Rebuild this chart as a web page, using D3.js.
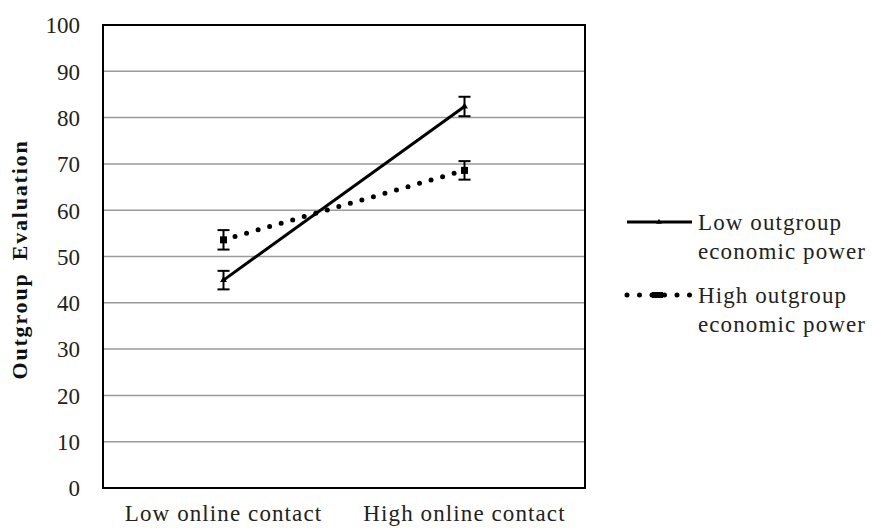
<!DOCTYPE html>
<html><head><meta charset="utf-8">
<script src="https://cdn.jsdelivr.net/npm/d3@7"></script>
<style>body{margin:0;background:#fff}svg{display:block}</style>
</head><body>
<svg id="c" width="872" height="528"></svg>
<script>
const categories = ["Low online contact", "High online contact"];
const seriesNames = ["Low outgroup economic power", "High outgroup economic power"];
const lowPower = [44.9, 82.4];
const highPower = [53.6, 68.6];
const lowPowerErr = [2.0, 2.1];
const highPowerErr = [2.1, 2.0];
const yTicks = [0,10,20,30,40,50,60,70,80,90,100];

const svg = d3.select("#c");
const m = {l:103, r:585, t:25, b:488};
const x = d3.scaleBand().domain(categories).range([m.l, m.r]);
const y = d3.scaleLinear().domain([0,100]).range([m.b, m.t]);
const font = "'Liberation Serif','Times New Roman',serif";

// gridlines
svg.append("g").selectAll("line").data(yTicks.filter(d=>d>0&&d<100)).join("line")
  .attr("x1", m.l).attr("x2", m.r).attr("y1", d=>y(d)).attr("y2", d=>y(d))
  .attr("stroke", "#9a9a9a").attr("stroke-width", 1.5);

// border
svg.append("rect").attr("x", m.l).attr("y", m.t).attr("width", m.r-m.l).attr("height", m.b-m.t)
  .attr("fill","none").attr("stroke","#000").attr("stroke-width",2);

// y axis
const ya = svg.append("g").attr("transform", `translate(${m.l},0)`)
  .call(d3.axisLeft(y).tickValues(yTicks).tickSize(0).tickPadding(23));
ya.select(".domain").remove();
ya.selectAll("text").attr("font-family", font).attr("font-size", 23).attr("fill","#222")
  .attr("dy", "0.34em");

// x axis
const xa = svg.append("g").attr("transform", `translate(0,${m.b})`)
  .call(d3.axisBottom(x).tickSize(0));
xa.select(".domain").remove();
xa.selectAll("text").attr("font-family", font).attr("font-size", 23).attr("fill","#222")
  .attr("dy", null).attr("y", 33).attr("letter-spacing", 1.1);

// y title
svg.append("text").attr("transform", `translate(27,${(m.t+m.b)/2+3}) rotate(-90)`)
  .attr("text-anchor","middle").attr("font-family", font).attr("font-size", 22)
  .attr("font-weight","bold").attr("fill","#111").attr("letter-spacing", 1.8)
  .attr("word-spacing", 5).text("Outgroup Evaluation");

const cx = c => x(c) + x.bandwidth()/2;
const line = d3.line().x((d,i)=>cx(categories[i])).y(d=>y(d));

// lines
svg.append("path").datum(lowPower).attr("d", line).attr("fill","none")
  .attr("stroke","#000").attr("stroke-width",3);
svg.append("path").datum(highPower).attr("d", line).attr("fill","none")
  .attr("stroke","#000").attr("stroke-width",5).attr("stroke-linecap","round")
  .attr("stroke-dasharray","0 12");

// error bars
function errBars(vals, errs){
  const g = svg.append("g").attr("stroke","#000").attr("stroke-width",2);
  vals.forEach((v,i)=>{
    const px = cx(categories[i]);
    g.append("line").attr("x1",px).attr("x2",px).attr("y1",y(v+errs[i])).attr("y2",y(v-errs[i]));
    [v+errs[i], v-errs[i]].forEach(e=>{
      g.append("line").attr("x1",px-6).attr("x2",px+6).attr("y1",y(e)).attr("y2",y(e));
    });
  });
}
errBars(lowPower, lowPowerErr);
errBars(highPower, highPowerErr);

// markers
svg.append("g").selectAll("path").data(lowPower).join("path")
  .attr("d", d3.symbol(d3.symbolTriangle, 20))
  .attr("transform",(d,i)=>`translate(${cx(categories[i])},${y(d)})`).attr("fill","#000");
svg.append("g").selectAll("rect").data(highPower).join("rect")
  .attr("x",(d,i)=>cx(categories[i])-3.5).attr("y",d=>y(d)-3.5).attr("width",7).attr("height",7).attr("fill","#000");

// legend
const lg = svg.append("g");
lg.append("line").attr("x1",627).attr("x2",692).attr("y1",222).attr("y2",222).attr("stroke","#000").attr("stroke-width",3);
lg.append("path").attr("d", d3.symbol(d3.symbolTriangle, 14)).attr("transform","translate(659,222)").attr("fill","#000");
lg.append("line").attr("x1",627).attr("x2",690).attr("y1",295).attr("y2",295).attr("stroke","#000").attr("stroke-width",5)
  .attr("stroke-linecap","round").attr("stroke-dasharray","0 12.5");
lg.append("rect").attr("x",652).attr("y",292).attr("width",11).attr("height",6).attr("fill","#000");
const lt = [[seriesNames[0].replace(" economic power",""),"economic power",230],
            [seriesNames[1].replace(" economic power",""),"economic power",303]];
lt.forEach(([a,b,yy])=>{
  const t = lg.append("text").attr("font-family",font).attr("font-size",23).attr("fill","#222")
    .attr("letter-spacing", 1.1);
  t.append("tspan").attr("x",698).attr("y",yy).text(a);
  t.append("tspan").attr("x",698).attr("y",yy+29).text(b);
});
</script>
</body></html>
